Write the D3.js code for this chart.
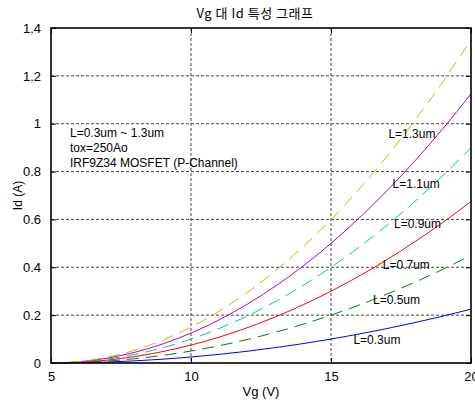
<!DOCTYPE html>
<meta charset="UTF-8">
<style>
  body { margin: 0; background: #fff; }
  text { font: 12px "Liberation Sans", Arial, sans-serif; fill: #000; }
  .title { font: 13px "Noto Sans CJK KR", sans-serif; }
  .grid line { stroke: #444; stroke-width: 1; stroke-dasharray: 3,2; }
  .curve { fill: none; stroke-width: 1; }
</style>
<body>
<svg width="475" height="402" id="chart"></svg>

<script src="https://d3js.org/d3.v7.min.js"></script>
<script>

// gate voltage samples (V)
var vg = [5, 6, 7, 8, 9, 10, 11, 12, 13, 14, 15, 16, 17, 18, 19, 20];

// drain current (A), one array per channel length
var id03 = [0, 0.001, 0.004, 0.009, 0.016, 0.025, 0.036, 0.049, 0.064, 0.081, 0.100, 0.121, 0.144, 0.169, 0.196, 0.225];
var id05 = [0, 0.002, 0.008, 0.018, 0.032, 0.050, 0.072, 0.098, 0.128, 0.162, 0.200, 0.242, 0.288, 0.338, 0.392, 0.450];
var id07 = [0, 0.003, 0.012, 0.027, 0.048, 0.075, 0.108, 0.147, 0.192, 0.243, 0.300, 0.363, 0.432, 0.507, 0.588, 0.675];
var id09 = [0, 0.004, 0.016, 0.036, 0.064, 0.100, 0.144, 0.196, 0.256, 0.324, 0.400, 0.484, 0.576, 0.676, 0.784, 0.900];
var id11 = [0, 0.005, 0.020, 0.045, 0.080, 0.125, 0.180, 0.245, 0.320, 0.405, 0.500, 0.605, 0.720, 0.845, 0.980, 1.125];
var id13 = [0, 0.006, 0.024, 0.054, 0.096, 0.150, 0.216, 0.294, 0.384, 0.486, 0.600, 0.726, 0.864, 1.014, 1.176, 1.350];

var seriesNames = ["L=0.3um", "L=0.5um", "L=0.7um", "L=0.9um", "L=1.1um", "L=1.3um"];
var seriesValues = [id03, id05, id07, id09, id11, id13];

// where each curve label sits, in data units (Vg, Id)
var labelVg = [15.8, 16.5, 16.85, 17.25, 17.2, 17.05];
var labelId = [0.097, 0.265, 0.41, 0.58, 0.75, 0.958];

var xTicks = [5, 10, 15, 20];
var yTicks = [0, 0.2, 0.4, 0.6, 0.8, 1, 1.2, 1.4];

var infoLines = ["L=0.3um ~ 1.3um", "tox=250Ao", "IRF9Z34 MOSFET (P-Channel)"];

// matlab-ish colour order and line styles
var colors = ["#0000ff", "#008000", "#ff0000", "#00bfbf", "#bf00bf", "#bfbf00"];
var dashed = [false, true, false, true, false, true];

var margin = {top: 28, right: 4, bottom: 39, left: 51},
    width = 475 - margin.left - margin.right,
    height = 402 - margin.top - margin.bottom;

var svg = d3.select("#chart");
var g = svg.append("g")
    .attr("transform", "translate(" + margin.left + "," + margin.top + ")");

var x = d3.scaleLinear().domain([5, 20]).range([0, width]);
var y = d3.scaleLinear().domain([0, 1.4]).range([height, 0]);

// dotted grid
var grid = g.append("g").attr("class", "grid");
grid.selectAll(".gx")
    .data(xTicks.slice(1, -1))
  .enter().append("line")
    .attr("x1", function(d) { return x(d); })
    .attr("x2", function(d) { return x(d); })
    .attr("y1", 0)
    .attr("y2", height);
grid.selectAll(".gy")
    .data(yTicks.slice(1, -1))
  .enter().append("line")
    .attr("x1", 0)
    .attr("x2", width)
    .attr("y1", function(d) { return y(d); })
    .attr("y2", function(d) { return y(d); });

// curves
var line = d3.line()
    .x(function(d) { return x(d[0]); })
    .y(function(d) { return y(d[1]); })
    .curve(d3.curveMonotoneX);

seriesValues.forEach(function(vals, i) {
  g.append("path")
      .attr("class", "curve")
      .attr("d", line(vg.map(function(v, j) { return [v, vals[j]]; })))
      .style("stroke", colors[i])
      .style("stroke-dasharray", dashed[i] ? "12,7" : null);
});

// axes with inward ticks on all four sides
var tickLen = 5;
g.append("g")
    .attr("transform", "translate(0," + height + ")")
    .call(d3.axisBottom(x).tickValues(xTicks).tickSizeInner(-tickLen).tickSizeOuter(0).tickPadding(9))
    .call(function(a) { a.select(".domain").remove(); });
g.append("g")
    .call(d3.axisTop(x).tickValues(xTicks).tickSizeInner(-tickLen).tickSizeOuter(0).tickFormat(""))
    .call(function(a) { a.select(".domain").remove(); });
g.append("g")
    .call(d3.axisLeft(y).tickValues(yTicks).tickSizeInner(-tickLen).tickSizeOuter(0).tickPadding(10)
      .tickFormat(function(d) { return d3.format("~g")(d); }))
    .call(function(a) { a.select(".domain").remove(); });
g.append("g")
    .attr("transform", "translate(" + width + ",0)")
    .call(d3.axisRight(y).tickValues(yTicks).tickSizeInner(-tickLen).tickSizeOuter(0).tickFormat(""))
    .call(function(a) { a.select(".domain").remove(); });

g.selectAll(".tick line").style("stroke", "#000").style("stroke-width", 1);
g.selectAll(".tick text").style("font-size", "13px").style("font-family", '"Liberation Sans", Arial, sans-serif');

// axes box
g.append("rect")
    .attr("width", width)
    .attr("height", height)
    .style("fill", "none")
    .style("stroke", "#000")
    .style("stroke-width", 1.6);

// curve labels
g.selectAll(".lbl")
    .data(seriesNames)
  .enter().append("text")
    .attr("x", function(d, i) { return x(labelVg[i]); })
    .attr("y", function(d, i) { return y(labelId[i]); })
    .attr("dy", "0.35em")
    .text(function(d) { return d; });

// info block
g.selectAll(".info")
    .data(infoLines)
  .enter().append("text")
    .attr("x", 19)
    .attr("y", function(d, i) { return 109 + i * 15; })
    .text(function(d) { return d; });

// title and axis labels
svg.append("text")
    .attr("class", "title")
    .attr("x", margin.left + width / 2 - 6)
    .attr("y", 18)
    .attr("text-anchor", "middle")
    .style("letter-spacing", "0.5px")
    .text("Vg 대 Id 특성 그래프");

svg.append("text")
    .attr("x", margin.left + width / 2)
    .attr("y", 396)
    .attr("text-anchor", "middle")
    .style("font-size", "13px")
    .text("Vg (V)");

svg.append("text")
    .attr("transform", "translate(22," + (margin.top + height / 2) + ") rotate(-90)")
    .attr("text-anchor", "middle")
    .text("Id (A)");

</script>
</body>
